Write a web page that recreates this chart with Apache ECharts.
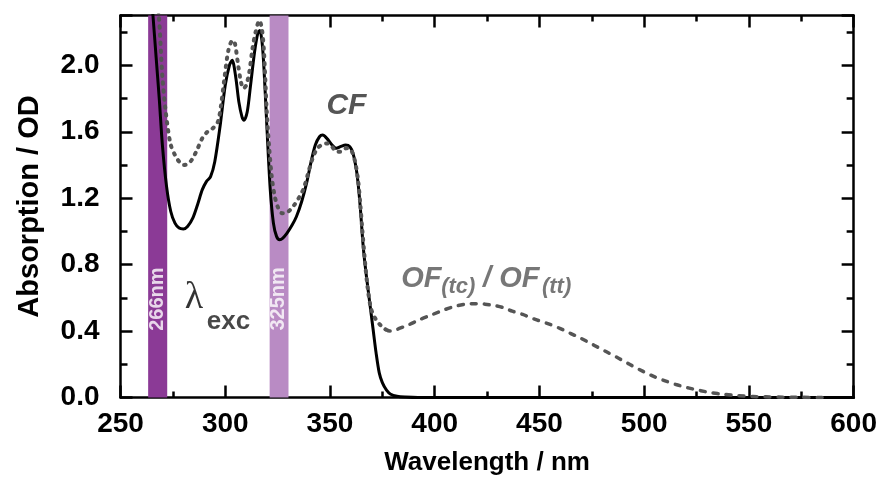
<!DOCTYPE html>
<html><head><meta charset="utf-8">
<script src="https://cdn.jsdelivr.net/npm/echarts@6/dist/echarts.min.js"></script>
<style>html,body{margin:0;padding:0;background:#fff}#c{width:880px;height:484px}</style>
</head><body><div id="c"></div>
<script>
// ---------- data ----------
const xTicks = [250, 300, 350, 400, 450, 500, 550, 600];
const yTicks = [0.0, 0.4, 0.8, 1.2, 1.6, 2.0];
const yMax = 2.3;

// CF (closed form) absorption, solid black
const cfWavelength = [262,264,265.5,267,268.5,270,272,274,276,278,280,282,284.5,287,289,291,293,295,297.5,300,302,303.3,305,306.5,308,309,310.5,312,314,315.5,316.5,317.5,318.5,320,321.5,323,324.5,326,327.5,329.5,332,334,336.5,339,341,343,345,346.5,348.5,351,353,355,357.5,359.5,361,362.5,363.5,364.5,366,367.5,369,370.5,372,373.5,375,377,379,382,386,392,420,480,540,600];
const cfAbs = [2.9,2.55,2.3,2.05,1.8,1.52,1.27,1.12,1.05,1.02,1.015,1.03,1.08,1.17,1.25,1.3,1.33,1.42,1.63,1.88,2.0,2.03,1.93,1.78,1.69,1.67,1.72,1.87,2.08,2.19,2.21,2.15,1.98,1.6,1.25,1.05,0.97,0.95,0.96,0.99,1.04,1.09,1.18,1.3,1.42,1.52,1.57,1.58,1.56,1.52,1.5,1.51,1.52,1.51,1.47,1.38,1.28,1.14,0.89,0.72,0.57,0.42,0.27,0.15,0.09,0.045,0.02,0.008,0.003,0,0,0,0,0];

// OF(tc)/OF(tt) absorption, UV part (dotted)
const ofUvWavelength = [262,266,268.3,270,271.5,273.8,276,278,280.2,282,284,286.5,289,291.5,294,296.5,298,299.5,301.5,303.5,304.5,306.3,307.5,308.7,310,311.5,313,314.5,316.3,317.5,318.5,319.8,321,322.2,323.5,325,327,329,331,333,335.5,337.5,340,342,344,346.5,348.5,351,353,355,357.5,359,360.5,362,363.5,364.5,365.5,366.7,368,369.5,371,372.5,374.5,376.5];
const ofUvAbs = [3.0,2.6,2.3,1.93,1.73,1.53,1.46,1.42,1.4,1.405,1.43,1.49,1.56,1.6,1.62,1.66,1.76,1.91,2.09,2.15,2.14,1.99,1.9,1.86,1.88,1.96,2.1,2.2,2.27,2.22,2.08,1.73,1.5,1.33,1.22,1.15,1.11,1.11,1.13,1.16,1.21,1.26,1.37,1.45,1.5,1.525,1.53,1.51,1.48,1.48,1.5,1.5,1.48,1.42,1.3,1.16,1.0,0.82,0.66,0.54,0.49,0.46,0.43,0.41];

// OF(tc)/OF(tt) absorption, visible part (dashed)
const ofVisWavelength = [376.5,378.6,382,385,388,393,399,405,410,415,419,424,428,433,437,442,448,454,460,465,470,476,482,488,493,499,504,510,516,521,527,532,538,545,552,558,566,575,585];
const ofVisAbs = [0.41,0.4,0.41,0.425,0.44,0.47,0.5,0.53,0.55,0.562,0.565,0.562,0.555,0.54,0.52,0.5,0.47,0.445,0.415,0.385,0.355,0.315,0.275,0.235,0.2,0.16,0.13,0.1,0.075,0.058,0.041,0.029,0.019,0.011,0.006,0.004,0.002,0.001,0];

// excitation bands (nm range)
const bandNames = ['266nm', '325nm'];
const bandFrom = [263.2, 321.2];
const bandTo = [272.3, 330.2];

// text annotations anchored in data coordinates
const noteText = ['CF', '\u03BB', 'exc', 'OF', '(tc)', '/ OF', '(tt)', '266nm', '325nm'];
const noteX = [348.3, 280.7, 291.2, 384.0, 403.1, 423.1, 451.2, 267.8, 325.6];
const noteY = [1.757, 0.60, 0.455, 0.714, 0.668, 0.714, 0.668, 0.592, 0.594];

// ---------- styles ----------
const FONT = 'Liberation Sans, Arial, sans-serif';
const bandColors = ['#8B3A96', '#B98BC4'];
const noteStyles = [
  {fontSize: 30, fontWeight: 'bold', fontStyle: 'italic', color: '#2b2b2b', align: 'left'},
  {fontSize: 38, fontWeight: 'normal', fontFamily: 'Liberation Serif, serif', color: '#000', align: 'left'},
  {fontSize: 26, fontWeight: 'bold', color: '#1a1a1a', align: 'left'},
  {fontSize: 29, fontWeight: 'bold', fontStyle: 'italic', color: '#555', align: 'left'},
  {fontSize: 22, fontWeight: 'bold', fontStyle: 'italic', color: '#555', align: 'left'},
  {fontSize: 29, fontWeight: 'bold', fontStyle: 'italic', color: '#555', align: 'left'},
  {fontSize: 22, fontWeight: 'bold', fontStyle: 'italic', color: '#555', align: 'left'},
  {fontSize: 20, fontWeight: 'bold', color: '#fff', align: 'center', rotate: 90},
  {fontSize: 20, fontWeight: 'bold', color: '#fff', align: 'center', rotate: 90}
];

const pair = (xs, ys) => xs.map((x, i) => [x, ys[i]]);
const AXC = '#000', AXW = 2.5;
const xStep = xTicks[1] - xTicks[0];
const yStep = yTicks[1] - yTicks[0];

function xAx(position, showLabel, extra) {
  return Object.assign({
    type: 'value', position, min: xTicks[0], max: xTicks[xTicks.length - 1], interval: xStep,
    axisLine: {show: true, onZero: false, lineStyle: {color: AXC, width: AXW}},
    axisTick: {show: true, inside: true, length: 12, lineStyle: {color: AXC, width: AXW}},
    minorTick: {show: true, splitNumber: 2, length: 6, lineStyle: {color: AXC, width: AXW}},
    axisLabel: {show: showLabel, margin: 13, fontFamily: FONT, fontWeight: 'bold', fontSize: 28, color: '#000'},
    splitLine: {show: false}, minorSplitLine: {show: false}
  }, extra || {});
}
function yAx(position, interval, len, showLine, showLabel, extra) {
  return Object.assign({
    type: 'value', position, min: 0, max: yMax, interval,
    axisLine: {show: showLine, onZero: false, lineStyle: {color: AXC, width: AXW}},
    axisTick: {show: true, inside: true, length: len, lineStyle: {color: AXC, width: AXW}},
    axisLabel: {show: showLabel, margin: 21, fontFamily: FONT, fontWeight: 'bold', fontSize: 28, color: '#000',
      formatter: v => (yTicks.some(t => Math.abs(t - v) < 1e-6) ? v.toFixed(1) : '')},
    splitLine: {show: false}
  }, extra || {});
}

const option = {
  animation: false,
  backgroundColor: '#fff',
  textStyle: {fontFamily: FONT},
  grid: {left: 120.5, right: 25, top: 15.5, bottom: 86.5, containLabel: false},
  xAxis: [
    xAx('bottom', true, {name: 'Wavelength / nm', nameLocation: 'middle', nameGap: 52,
      nameTextStyle: {fontFamily: FONT, fontWeight: 'bold', fontSize: 26, color: '#000'}}),
    xAx('top', false)
  ],
  yAxis: [
    yAx('left', yStep, 12, true, true, {name: 'Absorption / OD', nameLocation: 'middle', nameGap: 76,
      nameTextStyle: {fontFamily: FONT, fontWeight: 'bold', fontSize: 29, color: '#000'}}),
    yAx('left', yStep / 2, 7, false, false),
    yAx('right', yStep, 12, true, false),
    yAx('right', yStep / 2, 7, false, false)
  ],
  series: [
    {
      name: 'CF', type: 'line', xAxisIndex: 0, yAxisIndex: 0, z: 3,
      data: pair(cfWavelength, cfAbs), showSymbol: false, smooth: 0.3, clip: true,
      lineStyle: {color: '#000', width: 3, cap: 'round', join: 'round'},
      markArea: {
        silent: true, z: 1,
        data: bandNames.map((n, i) => [
          {xAxis: bandFrom[i], itemStyle: {color: bandColors[i], opacity: 1}},
          {xAxis: bandTo[i]}
        ])
      }
    },
    {
      name: 'OF UV', type: 'line', xAxisIndex: 0, yAxisIndex: 0, z: 4,
      data: pair(ofUvWavelength, ofUvAbs), showSymbol: false, smooth: 0.3, clip: true,
      lineStyle: {color: '#555', width: 4, type: [1.5, 6.5], cap: 'round', join: 'round'}
    },
    {
      name: 'OF Vis', type: 'line', xAxisIndex: 0, yAxisIndex: 0, z: 4,
      data: pair(ofVisWavelength, ofVisAbs), showSymbol: false, smooth: 0.3, clip: true,
      lineStyle: {color: '#555', width: 3.5, type: [5, 8], cap: 'round', join: 'round'}
    },
    {
      name: 'notes', type: 'scatter', xAxisIndex: 0, yAxisIndex: 0, z: 6,
      symbolSize: 0, silent: true,
      data: noteText.map((t, i) => ({
        value: [noteX[i], noteY[i]],
        label: Object.assign({show: true, position: [0, 0], verticalAlign: 'middle',
          fontFamily: FONT, formatter: t}, noteStyles[i])
      }))
    }
  ]
};
const chart = echarts.init(document.getElementById('c'));
chart.setOption(option);
</script>
</body></html>
